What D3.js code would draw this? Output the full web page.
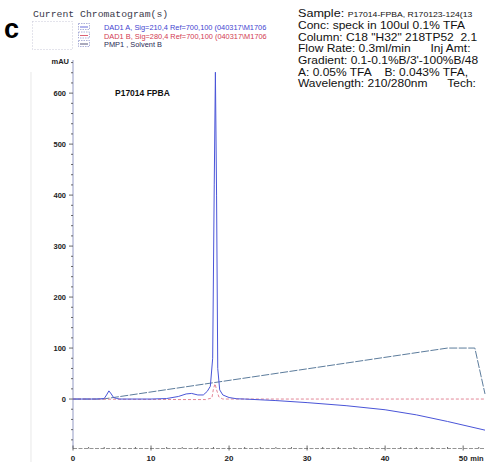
<!doctype html>
<html>
<head>
<meta charset="utf-8">
<title>Current Chromatogram</title>
<script src="https://d3js.org/d3.v7.min.js"></script>
<style>
  body { margin: 0; background: #fff; }
  svg { display: block; }
</style>
</head>
<body>
<svg class="plot"></svg>
<script>
// DAD1 A, 210 nm (blue)
var timeA = [0, 3, 4, 4.3, 4.6, 4.9, 5.2, 5.6, 6, 10, 12, 13.5, 14.5, 15.2, 16, 16.7, 17.2, 17.6, 17.9, 18.1, 18.25, 18.4, 18.55, 18.8, 19.2, 20, 21, 22, 26, 30, 35, 40, 44, 48, 52.8];
var mauA  = [0, 0, 1, 8, 16, 10, 3, 1, 0, 0, 1, 5, 10, 11, 8, 8, 15, 25, 80, 420, 641, 400, 60, 18, 8, 3, 0.5, 0, -3, -7, -13, -21, -31, -44, -61];
// DAD1 B, 280 nm (red)
var timeB = [0, 14, 17, 17.8, 18.0, 18.2, 18.4, 18.7, 19.2, 20, 52.8];
var mauB  = [0, -1, -1, 2, 20, 30, 18, 4, 0, 0, 0];
// PMP1, Solvent B (%)
var timeP = [0, 3.85, 48, 51.5, 52.8];
var pctB  = [0, 0, 100, 100, 10];

var yTicks = [0, 100, 200, 300, 400, 500, 600];
var xTicks = [0, 10, 20, 30, 40, 50];

var legendRows = [
  {label: "DAD1 A, Sig=210,4 Ref=700,100 (040317\\M1706", color: "#3f45d0"},
  {label: "DAD1 B, Sig=280,4 Ref=700,100 (040317\\M1706", color: "#d23a52"},
  {label: "PMP1 , Solvent B", color: "#2a2a55"}
];
var infoLines = [
  "Conc: speck in 100ul 0.1% TFA",
  "Column: C18 \"H32\" 218TP52  2.1",
  "Flow Rate: 0.3ml/min      Inj Amt:",
  "Gradient: 0.1-0.1%B/3'-100%B/48",
  "A: 0.05% TFA    B: 0.043% TFA,",
  "Wavelength: 210/280nm      Tech:"
];

var W = 490, H = 466;
var svg = d3.select(".plot").attr("width", W).attr("height", H);

var x = d3.scaleLinear().domain([0, 52.8]).range([73, 485]);
var y = d3.scaleLinear().domain([-97, 665]).range([448.5, 60]);

// scan artifact line on the left
svg.append("line").attr("x1", 31).attr("x2", 31).attr("y1", 72).attr("y2", 462)
  .attr("stroke", "#ececec").attr("stroke-width", 1.2);

// panel letter
svg.append("text").attr("x", 4).attr("y", 38)
  .attr("font-family", "Liberation Sans, Arial, sans-serif")
  .attr("font-weight", "bold").attr("font-size", 27).text("c");

svg.append("text").attr("x", 33).attr("y", 17)
  .attr("font-family", "Liberation Mono, DejaVu Sans Mono, monospace")
  .attr("font-size", 9.8).attr("fill", "#3a3a4a").text("Current Chromatogram(s)");

// legend
svg.append("rect").attr("x", 32.5).attr("y", 21.5).attr("width", 40).attr("height", 28)
  .attr("fill", "none").attr("stroke", "#c8c8d8").attr("stroke-dasharray", "1,2");
legendRows.forEach(function (r, i) {
  var yy = 27 + i * 8.5;
  svg.append("rect").attr("x", 78.5).attr("y", yy - 3.5).attr("width", 11).attr("height", 6)
    .attr("fill", "none").attr("stroke", "#8a90c8").attr("stroke-width", 0.7)
    .attr("stroke-dasharray", "1.5,1");
  svg.append("line").attr("x1", 80).attr("x2", 88).attr("y1", yy).attr("y2", yy)
    .attr("stroke", r.color).attr("stroke-width", 0.8);
  svg.append("text").attr("x", 104).attr("y", yy + 3)
    .attr("font-family", "Liberation Sans, Arial, sans-serif")
    .attr("font-size", 7.4).attr("fill", r.color).text(r.label);
});

// info block on the right (scanned text is wide, so stretch it horizontally)
var info = svg.append("g").attr("font-family", "Liberation Sans, Arial, sans-serif")
  .attr("fill", "#111").attr("transform", "translate(298,0) scale(1.2,1)");
var s = info.append("text").attr("x", 0).attr("y", 17);
s.append("tspan").attr("font-size", 10.5).text("Sample: ");
s.append("tspan").attr("font-size", 7.2).text("P17014-FPBA, R170123-124(13");
infoLines.forEach(function (t, i) {
  info.append("text").attr("x", 0).attr("y", 29 + i * 11.7)
    .attr("font-size", 10).attr("xml:space", "preserve").style("white-space", "pre").text(t);
});

// axes
var axisColor = "#8890c0";
svg.append("line").attr("x1", x(0)).attr("x2", x(0)).attr("y1", y(665)).attr("y2", y(-97))
  .attr("stroke", axisColor).attr("stroke-width", 0.9);
svg.append("line").attr("x1", x(0)).attr("x2", x(52.8)).attr("y1", y(-97)).attr("y2", y(-97))
  .attr("stroke", "#888").attr("stroke-width", 0.9).attr("stroke-dasharray", "4,1.5");

d3.range(-80, 661, 20).forEach(function (v) {
  var major = yTicks.indexOf(v) >= 0;
  svg.append("line").attr("x1", x(0) - (major ? 4 : 2)).attr("x2", x(0))
    .attr("y1", y(v)).attr("y2", y(v)).attr("stroke", "#444").attr("stroke-width", 0.8);
});
svg.append("g").selectAll("text").data(yTicks).join("text")
  .attr("x", x(0) - 7).attr("y", function (d) { return y(d) + 2.5; })
  .attr("text-anchor", "end").attr("font-family", "Liberation Sans, Arial, sans-serif")
  .attr("font-size", 7.5).attr("font-weight", "bold").attr("fill", "#222")
  .text(function (d) { return d; });
svg.append("text").attr("x", x(0) - 4).attr("y", 64).attr("text-anchor", "end")
  .attr("font-family", "Liberation Sans, Arial, sans-serif").attr("font-size", 7.5)
  .attr("font-weight", "bold").attr("fill", "#222").text("mAU");

d3.range(0, 53, 2).forEach(function (t) {
  var major = xTicks.indexOf(t) >= 0;
  svg.append("line").attr("x1", x(t)).attr("x2", x(t))
    .attr("y1", y(-97) - (major ? 3 : 1.5)).attr("y2", y(-97) + (major ? 2 : 0))
    .attr("stroke", "#444").attr("stroke-width", 0.8);
});
svg.append("g").selectAll("text").data(xTicks).join("text")
  .attr("x", function (d) { return x(d); }).attr("y", 461)
  .attr("text-anchor", "middle").attr("font-family", "Liberation Sans, Arial, sans-serif")
  .attr("font-size", 8).attr("font-weight", "bold").attr("fill", "#222")
  .text(function (d) { return d; });
svg.append("text").attr("x", 477).attr("y", 461).attr("text-anchor", "middle")
  .attr("font-family", "Liberation Sans, Arial, sans-serif").attr("font-size", 7.5)
  .attr("font-weight", "bold").attr("fill", "#222").text("min");

// traces
var line = d3.line().x(function (d) { return x(d[0]); }).y(function (d) { return y(d[1]); });

svg.append("path").attr("d", line(d3.zip(timeP, pctB)))
  .attr("fill", "none").attr("stroke", "#5c7c9c").attr("stroke-width", 1)
  .attr("stroke-dasharray", "8,1.5");
svg.append("path").attr("d", line(d3.zip(timeB, mauB)))
  .attr("fill", "none").attr("stroke", "#e07a8c").attr("stroke-width", 0.9)
  .attr("stroke-dasharray", "3,2");
svg.append("path").attr("d", line(d3.zip(timeA, mauA)))
  .attr("fill", "none").attr("stroke", "#4a55d8").attr("stroke-width", 1);

svg.append("text").attr("x", 115).attr("y", 96)
  .attr("font-family", "Liberation Sans, Arial, sans-serif").attr("font-size", 8.5)
  .attr("font-weight", "bold").attr("fill", "#111").text("P17014 FPBA");
</script>
</body>
</html>
